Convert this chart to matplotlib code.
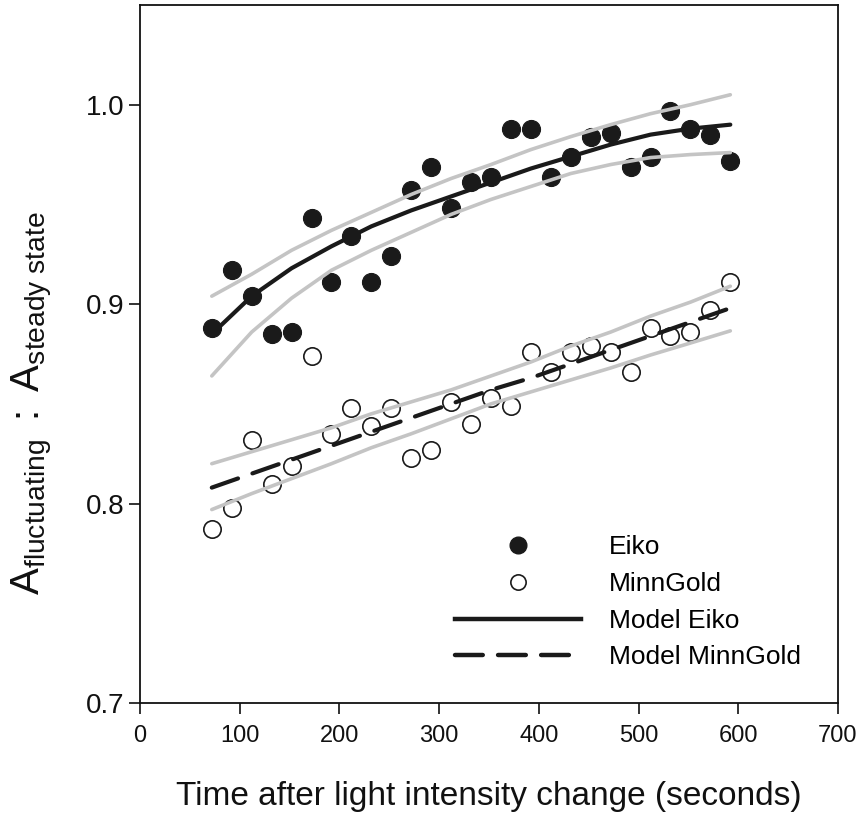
import matplotlib
matplotlib.use("Agg")
import matplotlib.pyplot as plt
from matplotlib.lines import Line2D

plt.rcParams['font.family'] = ['Liberation Sans', 'DejaVu Sans']
plt.rcParams['mathtext.fontset'] = 'custom'
plt.rcParams['mathtext.rm'] = 'Liberation Sans'
plt.rcParams['mathtext.it'] = 'Liberation Sans'
plt.rcParams['lines.scale_dashes'] = False

# ---- data ----
time_s = [72, 92, 112, 132, 152, 172, 192, 212, 232, 252, 272, 292, 312, 332,
          352, 372, 392, 412, 432, 452, 472, 492, 512, 532, 552, 572, 592]
eiko = [0.888, 0.917, 0.904, 0.885, 0.886, 0.943, 0.911, 0.934, 0.911, 0.924,
        0.957, 0.969, 0.948, 0.961, 0.964, 0.988, 0.988, 0.964, 0.974, 0.984,
        0.986, 0.969, 0.974, 0.997, 0.988, 0.985, 0.972]
minngold = [0.787, 0.798, 0.832, 0.810, 0.819, 0.874, 0.835, 0.848, 0.839, 0.848,
            0.823, 0.827, 0.851, 0.840, 0.853, 0.849, 0.876, 0.866, 0.876, 0.879,
            0.876, 0.866, 0.888, 0.884, 0.886, 0.897, 0.911]

model_t = [72, 112, 152, 192, 232, 272, 312, 352, 392, 432, 472, 512, 552, 592]
model_eiko = [0.885, 0.904, 0.918, 0.929, 0.939, 0.947, 0.954, 0.961, 0.968,
              0.974, 0.980, 0.985, 0.988, 0.990]
eiko_upper = [0.904, 0.915, 0.927, 0.937, 0.946, 0.955, 0.963, 0.970, 0.9775,
              0.984, 0.990, 0.9955, 1.000, 1.005]
eiko_lower = [0.864, 0.886, 0.903, 0.917, 0.927, 0.936, 0.945, 0.9525, 0.959,
              0.9655, 0.970, 0.9735, 0.975, 0.976]
model_minn = [0.808, 0.815, 0.822, 0.829, 0.836, 0.843, 0.850, 0.857, 0.863,
              0.870, 0.877, 0.884, 0.891, 0.898]
minn_upper = [0.820, 0.826, 0.832, 0.838, 0.845, 0.851, 0.857, 0.864, 0.871,
              0.879, 0.886, 0.894, 0.901, 0.909]
minn_lower = [0.797, 0.805, 0.8125, 0.820, 0.828, 0.835, 0.8425, 0.850, 0.856,
              0.862, 0.868, 0.8745, 0.8805, 0.8866]

xticks = [0, 100, 200, 300, 400, 500, 600, 700]
yticks = [0.7, 0.8, 0.9, 1.0]

# ---- figure ----
W, H = 862, 821
fig = plt.figure(figsize=(W / 100, H / 100), dpi=100)
ax = fig.add_axes([140 / W, (H - 703) / H, (838 - 140) / W, (703 - 5) / H])

gray = '#c4c4c4'
dark = '#1a1a1a'
dash = (20, 11)

ax.plot(time_s, eiko, 'o', ms=13, mfc=dark, mec=dark, mew=0.8, zorder=2)
ax.plot(time_s, minngold, 'o', ms=12.5, mfc='white', mec=dark, mew=1.2, zorder=2)

for band in (eiko_upper, eiko_lower, minn_upper, minn_lower):
    ax.plot(model_t, band, '-', color=gray, lw=2.6, solid_capstyle='round', zorder=3)
ax.plot(model_t, model_eiko, '-', color=dark, lw=3.0, solid_capstyle='round', zorder=4)
ax.plot(model_t, model_minn, color=dark, lw=3.0, dashes=dash,
        dash_capstyle='round', zorder=4)

ax.set_xlim(0, 700)
ax.set_ylim(0.7, 1.05)
ax.set_xticks(xticks)
ax.set_xticklabels([str(v) for v in xticks])
ax.set_yticks(yticks)
ax.set_yticklabels([f'{v:.1f}' for v in yticks])
for s in ax.spines.values():
    s.set_linewidth(1.3)
    s.set_color('#111111')
ax.tick_params(direction='out', length=8, width=1.2, labelsize=17, pad=8,
               colors='#111111')
ax.tick_params(axis='y', labelsize=20, pad=3)

ax.set_xlabel('Time after light intensity change (seconds)', fontsize=24,
              labelpad=24, color='#111111')
ax.set_ylabel(r'$\mathrm{A_{fluctuating}\ :\ A_{steady\ state}}$', fontsize=29,
              color='#111111')
ax.yaxis.set_label_coords(-0.123, 0.43)

handles = [
    Line2D([], [], ls='none', marker='o', ms=12, mfc=dark, mec=dark),
    Line2D([], [], ls='none', marker='o', ms=11, mfc='white', mec=dark, mew=1.2),
    Line2D([], [], color=dark, lw=3.2),
    Line2D([], [], color=dark, lw=3.2, dashes=dash, dash_capstyle='round'),
]
labels = ['Eiko', 'MinnGold', 'Model Eiko', 'Model MinnGold']
ax.legend(handles, labels, loc='upper left', bbox_to_anchor=(0.452, 0.24),
          frameon=False, fontsize=19, handlelength=4.75, handletextpad=1.05,
          labelspacing=0.48, borderpad=0, borderaxespad=0)

fig.savefig('out.png', dpi=100)
